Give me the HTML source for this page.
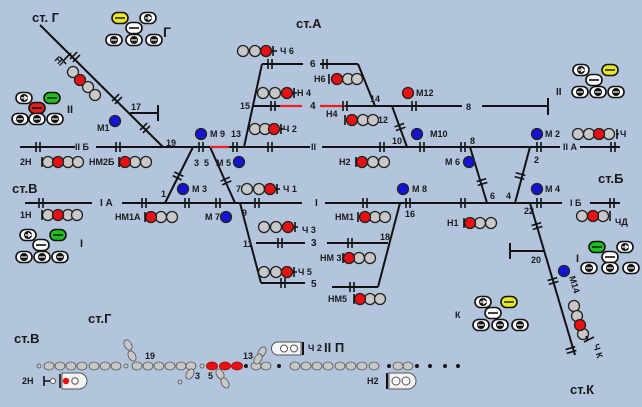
<!DOCTYPE html>
<html><head><meta charset="utf-8"><style>
html,body{margin:0;padding:0;background:#b3c5dd;}
svg{display:block;font-family:"Liberation Sans",sans-serif;font-weight:bold;}
</style></head><body>
<svg width="642" height="407" viewBox="0 0 642 407" xmlns="http://www.w3.org/2000/svg">
<defs>
<g id="j" stroke="#111" stroke-width="1.6"><line x1="-2" y1="-5" x2="-2" y2="5"/><line x1="2" y1="-5" x2="2" y2="5"/></g>
<g id="ar" ><rect x="-8" y="-5.5" width="16" height="11" rx="5.5" fill="#fff" stroke="#111" stroke-width="1.6"/><circle cx="0" cy="0" r="4" fill="#111"/><line x1="-3" y1="0" x2="3" y2="0" stroke="#fff" stroke-width="1.2"/></g>
<g id="arl"><rect x="-8" y="-5.5" width="16" height="11" rx="5.5" fill="#fff" stroke="#111" stroke-width="1.6"/><circle cx="0" cy="0" r="4" fill="#111"/><path d="M-3 0 H3 M0 -2 L3 0 L0 2" stroke="#fff" stroke-width="1.2" fill="none"/></g>
<g id="mn"><rect x="-8" y="-5.5" width="16" height="11" rx="5.5" fill="#fff" stroke="#111" stroke-width="1.6"/><line x1="-5" y1="0" x2="5" y2="0" stroke="#111" stroke-width="1.6"/></g>
</defs>
<rect width="642" height="407" fill="#b3c5dd"/>

<g stroke="#111" stroke-width="2" fill="none">
<line x1="20" y1="147" x2="75" y2="147"/>
<line x1="96" y1="147" x2="310" y2="147"/>
<line x1="322" y1="147" x2="560" y2="147"/>
<line x1="580" y1="147" x2="620" y2="147"/>
<line x1="25" y1="203" x2="92" y2="203"/>
<line x1="122" y1="203" x2="302" y2="203"/>
<line x1="325" y1="203" x2="562" y2="203"/>
<line x1="590" y1="203" x2="620" y2="203"/>
<line x1="253" y1="106" x2="280" y2="106"/>
<line x1="345" y1="106" x2="462" y2="106"/>
<line x1="482" y1="106" x2="548" y2="106"/>
<line x1="548" y1="98" x2="548" y2="115"/>
<line x1="262" y1="64" x2="303" y2="64"/>
<line x1="320" y1="64" x2="358" y2="64"/>
<line x1="358" y1="64" x2="375" y2="106"/>
<line x1="262" y1="64" x2="244" y2="147"/>
<line x1="256" y1="243" x2="305" y2="243"/>
<line x1="261" y1="283" x2="305" y2="283"/>
<line x1="240" y1="203" x2="261" y2="283"/>
<line x1="40" y1="25" x2="163" y2="147"/>
<line x1="130" y1="113" x2="158" y2="113"/>
<line x1="158" y1="105" x2="158" y2="121"/>
<line x1="193" y1="147" x2="165" y2="203"/>
<line x1="210" y1="147" x2="235" y2="203"/>
<line x1="392" y1="106" x2="407" y2="147"/>
<line x1="470" y1="147" x2="487" y2="203"/>
<line x1="530" y1="147" x2="515" y2="203"/>
<line x1="530" y1="203" x2="575" y2="355"/>
<line x1="510" y1="251" x2="545" y2="251"/>
<line x1="510" y1="243" x2="510" y2="259"/>
<line x1="400" y1="203" x2="378" y2="287"/>
<line x1="327" y1="243" x2="388" y2="243"/>
<line x1="332" y1="287" x2="378" y2="287"/>
</g>
<g stroke="#e82020" stroke-width="2.2">
<line x1="210" y1="147" x2="229" y2="147"/>
<line x1="280" y1="106" x2="302" y2="106"/>
<line x1="320" y1="106" x2="345" y2="106"/>
</g>

<g>
<use href="#j" x="38" y="147"/><use href="#j" x="118" y="147"/><use href="#j" x="201" y="147"/><use href="#j" x="235" y="147"/><use href="#j" x="270" y="147"/><use href="#j" x="382" y="147"/><use href="#j" x="422" y="147"/><use href="#j" x="463" y="147"/><use href="#j" x="539" y="147"/><use href="#j" x="613" y="147"/>
<use href="#j" x="41" y="203"/><use href="#j" x="144" y="203"/><use href="#j" x="187" y="203"/><use href="#j" x="218" y="203"/><use href="#j" x="257" y="203"/><use href="#j" x="365" y="203"/><use href="#j" x="408" y="203"/><use href="#j" x="463" y="203"/><use href="#j" x="539" y="203"/><use href="#j" x="612" y="203"/>
<use href="#j" x="273" y="106"/><use href="#j" x="345" y="106"/><use href="#j" x="414" y="106"/>
<use href="#j" x="270" y="64"/><use href="#j" x="325" y="64"/>
<use href="#j" x="280" y="243"/><use href="#j" x="283" y="283"/>
<use href="#j" x="350" y="243"/><use href="#j" x="352" y="287"/>
<use href="#j" transform="translate(75,57) rotate(45)"/><use href="#j" transform="translate(117,99) rotate(45)"/><use href="#j" transform="translate(145,128) rotate(45)"/>
<use href="#j" transform="translate(178,176) rotate(116)"/><use href="#j" transform="translate(226,181) rotate(66)"/>
<use href="#j" transform="translate(400,127) rotate(70)"/><use href="#j" transform="translate(482,182) rotate(73)"/><use href="#j" transform="translate(520,176) rotate(105)"/>
<use href="#j" transform="translate(537,226) rotate(73)"/><use href="#j" transform="translate(553,281) rotate(73)"/><use href="#j" transform="translate(571,350) rotate(73)"/>
</g>

<g stroke="#222" stroke-width="1.3">
<g fill="#c8c8c8">
<circle cx="73" cy="72" r="5.5"/><circle cx="88" cy="87" r="5.5"/><circle cx="95" cy="95" r="5.5"/>
<circle cx="243" cy="51" r="5.5"/><circle cx="255" cy="51" r="5.5"/>
<circle cx="263" cy="93" r="5.5"/><circle cx="275" cy="93" r="5.5"/>
<circle cx="255" cy="129" r="5.5"/><circle cx="265" cy="129" r="5.5"/>
<circle cx="348" cy="79" r="5.5"/><circle cx="357" cy="79" r="5.5"/>
<circle cx="363" cy="120" r="5.5"/><circle cx="373" cy="120" r="5.5"/>
<circle cx="48" cy="162" r="5.5"/><circle cx="68" cy="162" r="5.5"/><circle cx="78" cy="162" r="5.5"/>
<circle cx="135" cy="162" r="5.5"/><circle cx="146" cy="162" r="5.5"/>
<circle cx="373" cy="162" r="5.5"/><circle cx="384" cy="162" r="5.5"/>
<circle cx="578" cy="134" r="5.5"/><circle cx="589" cy="134" r="5.5"/><circle cx="609" cy="134" r="5.5"/>
<circle cx="247" cy="189" r="5.5"/><circle cx="259" cy="189" r="5.5"/>
<circle cx="48" cy="215" r="5.5"/><circle cx="68" cy="215" r="5.5"/><circle cx="77" cy="215" r="5.5"/>
<circle cx="161" cy="217" r="5.5"/><circle cx="172" cy="217" r="5.5"/>
<circle cx="264" cy="227" r="5.5"/><circle cx="276" cy="227" r="5.5"/>
<circle cx="264" cy="272" r="5.5"/><circle cx="276" cy="272" r="5.5"/>
<circle cx="375" cy="217" r="5.5"/><circle cx="385" cy="217" r="5.5"/>
<circle cx="480" cy="223" r="5.5"/><circle cx="491" cy="223" r="5.5"/>
<circle cx="582" cy="216" r="5.5"/><circle cx="603" cy="216" r="5.5"/>
<circle cx="359" cy="258" r="5.5"/><circle cx="370" cy="258" r="5.5"/>
<circle cx="370" cy="299" r="5.5"/><circle cx="380" cy="299" r="5.5"/>
<circle cx="574" cy="306" r="5.5"/><circle cx="577" cy="316" r="5.5"/><circle cx="583" cy="334" r="5.5"/>
</g>
<g fill="#e81010">
<circle cx="80" cy="80" r="5.5"/><circle cx="266" cy="51" r="5.5"/><circle cx="287" cy="93" r="5.5"/><circle cx="274" cy="129" r="5.5"/>
<circle cx="337" cy="79" r="5.5"/><circle cx="352" cy="120" r="5.5"/><circle cx="408" cy="93" r="5.5"/>
<circle cx="58" cy="162" r="5.5"/><circle cx="125" cy="162" r="5.5"/><circle cx="362" cy="162" r="5.5"/><circle cx="599" cy="134" r="5.5"/>
<circle cx="270" cy="189" r="5.5"/><circle cx="58" cy="215" r="5.5"/><circle cx="151" cy="217" r="5.5"/>
<circle cx="288" cy="227" r="5.5"/><circle cx="287" cy="272" r="5.5"/><circle cx="365" cy="217" r="5.5"/><circle cx="470" cy="223" r="5.5"/>
<circle cx="593" cy="216" r="5.5"/><circle cx="349" cy="258" r="5.5"/><circle cx="360" cy="299" r="5.5"/><circle cx="580" cy="325" r="5.5"/>
</g>
<g fill="#1414d8">
<circle cx="115" cy="121" r="5.5"/><circle cx="201" cy="134" r="5.5"/><circle cx="239" cy="162" r="5.5"/><circle cx="417" cy="134" r="5.5"/>
<circle cx="469" cy="162" r="5.5"/><circle cx="537" cy="134" r="5.5"/><circle cx="183" cy="189" r="5.5"/><circle cx="226" cy="217" r="5.5"/>
<circle cx="403" cy="189" r="5.5"/><circle cx="537" cy="189" r="5.5"/><circle cx="564" cy="271" r="5.5"/>
</g>
</g>
<g stroke="#111" stroke-width="1.6">
<path d="M273 46V56M272 51H277"/><path d="M294 88V98M293 93H297"/><path d="M281 124V134M280 129H284"/>
<path d="M329 74V84"/><path d="M345 115V125"/><path d="M42 157V167"/><path d="M119 157V167"/><path d="M356 157V167"/>
<path d="M617 129V139M616 134H619"/><path d="M277 184V194M276 189H280"/><path d="M42 210V220"/><path d="M145 212V222"/>
<path d="M295 222V232M294 227H298"/><path d="M294 267V277M293 272H297"/><path d="M358 212V222"/><path d="M464 218V228"/>
<path d="M610 211V221"/><path d="M343 253V263"/><path d="M354 294V304"/><path d="M584 342L594 337M588 340L586 336"/>
<path d="M63 61L71 53M60 57L66 64"/>
</g>

<use href="#arl" x="148" y="18"/><use href="#mn" x="134" y="28"/><use href="#ar" x="114" y="40"/><use href="#ar" x="134" y="40"/><use href="#ar" x="154" y="40"/>
<rect x="112" y="12.5" width="16" height="11" rx="5.5" fill="#e8e820" stroke="#111" stroke-width="1.6"/><path d="M115 18H125" stroke="#111" stroke-width="1.4"/>
<use href="#arl" x="24" y="98"/><rect x="44" y="92.5" width="16" height="11" rx="5.5" fill="#20c020" stroke="#111" stroke-width="1.6"/><path d="M47 98H57" stroke="#111" stroke-width="1.4"/>
<rect x="29" y="102.5" width="16" height="11" rx="5.5" fill="#e02020" stroke="#111" stroke-width="1.6"/><path d="M32 108H42" stroke="#111" stroke-width="1.6"/>
<use href="#ar" x="20" y="119"/><use href="#ar" x="37" y="119"/><use href="#ar" x="55" y="119"/>
<use href="#arl" x="28" y="235"/><rect x="50" y="229.5" width="16" height="11" rx="5.5" fill="#20c020" stroke="#111" stroke-width="1.6"/><path d="M53 235H63" stroke="#111" stroke-width="1.4"/>
<use href="#mn" x="41" y="245"/><use href="#ar" x="24" y="257"/><use href="#ar" x="42" y="257"/><use href="#ar" x="60" y="257"/>
<use href="#arl" x="581" y="70"/><rect x="602" y="64.5" width="16" height="11" rx="5.5" fill="#e8e820" stroke="#111" stroke-width="1.6"/><path d="M605 70H615" stroke="#111" stroke-width="1.4"/>
<use href="#mn" x="594" y="80"/><use href="#ar" x="580" y="92"/><use href="#ar" x="598" y="92"/><use href="#ar" x="616" y="92"/>
<rect x="589" y="241.5" width="16" height="11" rx="5.5" fill="#20c020" stroke="#111" stroke-width="1.6"/><path d="M592 247H602" stroke="#111" stroke-width="1.4"/><use href="#arl" x="625" y="247"/>
<use href="#mn" x="610" y="257"/><use href="#ar" x="589" y="268"/><use href="#ar" x="610" y="268"/><use href="#ar" x="631" y="268"/>
<use href="#arl" x="483" y="302"/><rect x="501" y="296.5" width="16" height="11" rx="5.5" fill="#e8e820" stroke="#111" stroke-width="1.6"/><path d="M504 302H514" stroke="#111" stroke-width="1.4"/>
<use href="#mn" x="493" y="313"/><use href="#ar" x="481" y="325"/><use href="#ar" x="500" y="325"/><use href="#ar" x="520" y="325"/>

<g fill="#1a1a1a" font-size="13">
<text x="32" y="22">ст. Г</text><text x="296" y="28">ст.А</text><text x="12" y="193">ст.В</text><text x="598" y="183">ст.Б</text>
<text x="570" y="394">ст.К</text><text x="14" y="343">ст.В</text><text x="88" y="323">ст.Г</text>
<text x="163" y="37" font-size="14">Г</text>
</g>
<g fill="#1a1a1a" font-size="9">
<text x="97" y="131">М1</text><text x="131" y="110">17</text><text x="166" y="146">19</text><text x="210" y="137">М 9</text><text x="231" y="137">13</text>
<text x="194" y="166">3</text><text x="204" y="166">5</text><text x="216" y="166">М 5</text>
<text x="20" y="165">2Н</text><text x="89" y="165">НМ2Б</text><text x="75" y="150">II Б</text>
<text x="280" y="54">Ч 6</text><text x="297" y="96">Н 4</text><text x="283" y="132">Ч 2</text><text x="240" y="109">15</text>
<text x="310" y="67" font-size="10">6</text><text x="310" y="109" font-size="10">4</text><text x="311" y="150">II</text>
<text x="314" y="82">Н6</text><text x="326" y="117">Н4</text><text x="378" y="123">12</text><text x="370" y="102">14</text>
<text x="416" y="96">М12</text><text x="466" y="110">8</text><text x="556" y="95" font-size="10">II</text>
<text x="430" y="137">М10</text><text x="392" y="144">10</text><text x="470" y="144">8</text><text x="545" y="137">М 2</text><text x="620" y="137">Ч</text>
<text x="339" y="165">Н2</text><text x="445" y="165">М 6</text><text x="563" y="150">II А</text><text x="534" y="163">2</text>
<text x="67" y="113" font-size="11">II</text><text x="80" y="247" font-size="11">I</text><text x="576" y="262" font-size="11">I</text>
<text x="20" y="218">1Н</text><text x="100" y="206" font-size="10">I А</text><text x="161" y="197">1</text><text x="192" y="192">М 3</text>
<text x="115" y="220">НМ1А</text><text x="205" y="220">М 7</text><text x="236" y="192">7</text><text x="242" y="216">9</text>
<text x="283" y="192">Ч 1</text><text x="302" y="233">Ч 3</text><text x="298" y="275">Ч 5</text><text x="243" y="247">11</text>
<text x="311" y="246" font-size="10">3</text><text x="311" y="287" font-size="10">5</text><text x="315" y="206" font-size="10">I</text>
<text x="412" y="192">М 8</text><text x="335" y="220">НМ1</text><text x="405" y="217">16</text><text x="380" y="240">18</text>
<text x="320" y="261">НМ 3</text><text x="328" y="302">НМ5</text><text x="447" y="226">Н1</text>
<text x="490" y="199">6</text><text x="506" y="199">4</text><text x="545" y="192">М 4</text><text x="524" y="214">22</text><text x="570" y="206">I Б</text>
<text x="615" y="225">ЧД</text><text x="531" y="263">20</text><text x="455" y="318">К</text>
<text transform="translate(569,277) rotate(73)">М14</text><text transform="translate(593,345) rotate(73)">Ч К</text>
<text transform="translate(54,60) rotate(45)">НГ</text>
</g>

<g fill="#c8c8c8" stroke="#555" stroke-width="0.8">
<circle cx="39" cy="366" r="2"/><circle cx="126" cy="366" r="2"/><circle cx="202" cy="366" r="2"/><circle cx="180" cy="382" r="2"/>
<ellipse cx="49" cy="366" rx="5" ry="4"/><ellipse cx="60" cy="366" rx="5" ry="4"/><ellipse cx="71" cy="366" rx="5" ry="4"/><ellipse cx="82" cy="366" rx="5" ry="4"/><ellipse cx="94" cy="366" rx="5" ry="4"/><ellipse cx="105" cy="366" rx="5" ry="4"/><ellipse cx="116" cy="366" rx="5" ry="4"/>
<ellipse cx="137" cy="366" rx="5" ry="4"/><ellipse cx="148" cy="366" rx="5" ry="4"/><ellipse cx="159" cy="366" rx="5" ry="4"/><ellipse cx="170" cy="366" rx="5" ry="4"/><ellipse cx="181" cy="366" rx="5" ry="4"/><ellipse cx="191" cy="366" rx="5" ry="4"/>
<ellipse cx="256" cy="366" rx="5" ry="4"/><ellipse cx="266" cy="366" rx="5" ry="4"/>
<ellipse cx="295" cy="366" rx="5" ry="4"/><ellipse cx="306" cy="366" rx="5" ry="4"/><ellipse cx="317" cy="366" rx="5" ry="4"/><ellipse cx="328" cy="366" rx="5" ry="4"/><ellipse cx="340" cy="366" rx="5" ry="4"/><ellipse cx="351" cy="366" rx="5" ry="4"/><ellipse cx="362" cy="366" rx="5" ry="4"/><ellipse cx="374" cy="366" rx="5" ry="4"/>
<ellipse cx="398" cy="366" rx="5" ry="4"/><ellipse cx="408" cy="366" rx="5" ry="4"/>
<ellipse cx="128" cy="345" rx="3.5" ry="5.5" transform="rotate(-30 128 345)"/><ellipse cx="132" cy="356" rx="3.5" ry="5.5" transform="rotate(-30 132 356)"/>
<ellipse cx="190" cy="374" rx="3.5" ry="5.5" transform="rotate(30 190 374)"/>
<ellipse cx="220" cy="374" rx="3.5" ry="5.5" transform="rotate(-30 220 374)"/><ellipse cx="225" cy="383" rx="3.5" ry="5.5" transform="rotate(-30 225 383)"/>
<ellipse cx="262" cy="352" rx="3.5" ry="5.5" transform="rotate(30 262 352)"/><ellipse cx="258" cy="359" rx="3.5" ry="5.5" transform="rotate(30 258 359)"/>
</g>
<g fill="#e81010" stroke="#a00" stroke-width="0.8">
<ellipse cx="212" cy="366" rx="5.5" ry="4"/><ellipse cx="225" cy="366" rx="5.5" ry="4"/><ellipse cx="237" cy="366" rx="5.5" ry="4"/>
</g>
<g fill="#111"><circle cx="246" cy="366" r="2"/><circle cx="279" cy="366" r="2"/><circle cx="389" cy="366" r="2"/><circle cx="417" cy="366" r="2"/><circle cx="430" cy="366" r="2"/><circle cx="445" cy="366" r="2"/><circle cx="458" cy="366" r="2"/></g>
<g fill="#1a1a1a" font-size="9"><text x="145" y="359">19</text><text x="195" y="379">3</text><text x="208" y="379">5</text><text x="243" y="359">13</text>
<text x="22" y="384">2Н</text><text x="367" y="384">Н2</text><text x="308" y="351">Ч 2</text><text x="324" y="352" font-size="13">II П</text></g>
<path d="M278 342H301V355H278A6.5 6.5 0 0 1 278 342Z" fill="#f4f4f4" stroke="#555"/>
<circle cx="284" cy="348.5" r="3.5" fill="#fff" stroke="#555"/><circle cx="294" cy="348.5" r="3.5" fill="#fff" stroke="#555"/>
<line x1="303" y1="342" x2="303" y2="355" stroke="#111" stroke-width="2"/>
<path d="M62 373H79A8 8 0 0 1 79 389H62Z" fill="#f4f4f4" stroke="#555"/>
<circle cx="66" cy="381" r="3.2" fill="#e81010"/><circle cx="75" cy="381" r="3.2" fill="#fff" stroke="#555"/>
<path d="M44 376V386M44 381H50M60 374V388" stroke="#111" stroke-width="1.6"/><circle cx="53" cy="381" r="2.5" fill="#fff" stroke="#555"/>
<path d="M389 373H408A8 8 0 0 1 408 389H389Z" fill="#f4f4f4" stroke="#555"/>
<circle cx="396" cy="381" r="4" fill="#fff" stroke="#555"/><circle cx="406" cy="381" r="4" fill="#fff" stroke="#555"/>
<line x1="387" y1="373" x2="387" y2="389" stroke="#111" stroke-width="2"/>
</svg>
</body></html>
